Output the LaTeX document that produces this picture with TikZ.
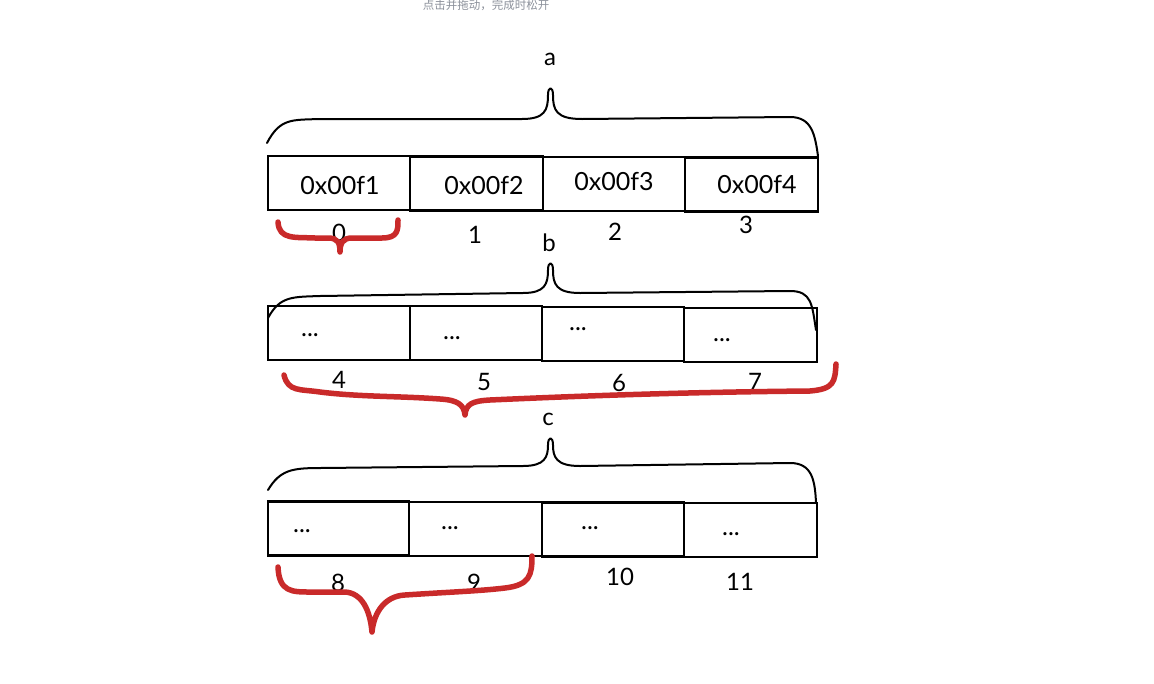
\documentclass[tikz,border=0pt]{standalone}
\usepackage{fontspec}
\setmainfont{Lato}
\newfontfamily\cjk{Noto Sans CJK SC}
\definecolor{redink}{RGB}{201,42,42}
\definecolor{hint}{RGB}{140,145,155}
\begin{document}
\begin{tikzpicture}[x=1pt,y=-1pt,
  cell/.style={draw=black,line width=2.2pt,minimum height=54pt,inner sep=0pt},
  txt/.style={font=\fontsize{25}{25}\selectfont,inner sep=0pt},
  idx/.style={font=\fontsize{24}{24}\selectfont,inner sep=0pt},
  tag/.style={font=\fontsize{24}{24}\selectfont,inner sep=0pt},
  brace/.style={draw=black,line width=2pt,line cap=round,line join=round},
  rbrace/.style={draw=redink,line width=5.5pt,line cap=round,line join=round}]
\useasboundingbox (0,0) rectangle (1154,683);
\fill[white] (0,0) rectangle (1154,683);
\node[text=hint,inner sep=0pt] (hinttext) at (486,5) {\cjk\fontsize{11.5}{11.5}\selectfont 点击并拖动，完成时松开};

% ---- row a ----
\node[cell,minimum width=142pt] (a0) at (339,183) {};
\node[cell,minimum width=133pt] (a1) at (476.5,183.5) {};
\node[cell,minimum width=142pt] (a2) at (614,184) {};
\node[cell,minimum width=133pt] (a3) at (751.5,184.5) {};
\node[txt] (ta0) at (340,186) {0x00f1};
\node[txt] (ta1) at (484,186) {0x00f2};
\node[txt] (ta2) at (614,182) {0x00f3};
\node[txt] (ta3) at (757,185) {0x00f4};
\node[idx] (ia0) at (339,233) {0};
\node[idx] (ia1) at (475,235) {1};
\node[idx] (ia2) at (615,232) {2};
\node[idx] (ia3) at (746,225) {3};
\node[tag] (la) at (550,59) {a};
\path[brace] (267,143) .. controls (280,118) and (292,120) .. (320,119) -- (522,119)
  .. controls (545,119) and (548,110) .. (548,95) .. controls (548,86) and (553,86) .. (553,95)
  .. controls (553,110) and (556,119) .. (582,119) -- (790,117) .. controls (812,117) and (815,135) .. (818,156);
\path[rbrace] (278,222) .. controls (279,240) and (295,237) .. (315,238) -- (328,238)
  .. controls (338,238) and (340,243) .. (340,252) .. controls (340,243) and (343,238) .. (352,238)
  -- (382,238) .. controls (398,238) and (398,230) .. (398,220);

% ---- row b ----
\node[cell,minimum width=142pt] (b0) at (339,333) {};
\node[cell,minimum width=132pt] (b1) at (476,333) {};
\node[cell,minimum width=142pt] (b2) at (613,334) {};
\node[cell,minimum width=133pt] (b3) at (750.5,335) {};
\node[txt] (tb0) at (310,335) {...};
\node[txt] (tb1) at (452,338) {...};
\node[txt] (tb2) at (578,329) {...};
\node[txt] (tb3) at (722,340) {...};
\node[idx] (ib0) at (339,380) {4};
\node[idx] (ib1) at (484,382) {5};
\node[idx] (ib2) at (619,383) {6};
\node[idx] (ib3) at (755,382) {7};
\node[tag] (lb) at (549,243) {b};
\path[brace] (268,318) .. controls (280,296) and (292,297) .. (320,296) -- (523,293)
  .. controls (545,293) and (548,284) .. (548,270) .. controls (548,261) and (553,261) .. (553,270)
  .. controls (553,284) and (556,293) .. (580,293) -- (790,291) .. controls (812,291) and (812,305) .. (816,330);
\path[rbrace] (284,375) .. controls (288,392) and (300,389) .. (320,392) .. controls (360,397) and (400,396) .. (440,399)
  .. controls (458,400) and (464,405) .. (465,415) .. controls (466,404) and (472,401) .. (490,400)
  .. controls (600,395) and (700,392) .. (810,391) .. controls (834,389) and (835,382) .. (836,364);

% ---- row c ----
\node[cell,minimum width=141pt] (c0) at (338.5,528.5) {};
\node[cell,minimum width=133pt] (c1) at (475.5,529) {};
\node[cell,minimum width=142pt] (c2) at (613,529.5) {};
\node[cell,minimum width=133pt] (c3) at (750.5,530) {};
\node[txt] (tc0) at (302,531) {...};
\node[txt] (tc1) at (450,528) {...};
\node[txt] (tc2) at (590,528) {...};
\node[txt] (tc3) at (731,534) {...};
\node[idx] (ic0) at (338,583) {8};
\node[idx] (ic1) at (474,583) {9};
\node[idx] (ic2) at (620,577) {10};
\node[idx] (ic3) at (740,582) {11};
\node[tag] (lc) at (548,419) {c};
\path[brace] (268,490) .. controls (280,470) and (292,468) .. (320,468) -- (523,466)
  .. controls (545,466) and (548,457) .. (548,445) .. controls (548,436) and (553,436) .. (553,445)
  .. controls (553,457) and (556,466) .. (580,466) -- (790,463) .. controls (812,463) and (815,480) .. (816,503);
\path[rbrace] (278,567) .. controls (279,592) and (292,592) .. (310,592) -- (345,592)
  .. controls (362,593) and (370,610) .. (372,632) .. controls (374,612) and (385,596) .. (405,595)
  .. controls (450,592) and (480,591) .. (505,588) .. controls (530,585) and (532,575) .. (532,556);
\end{tikzpicture}
\end{document}
